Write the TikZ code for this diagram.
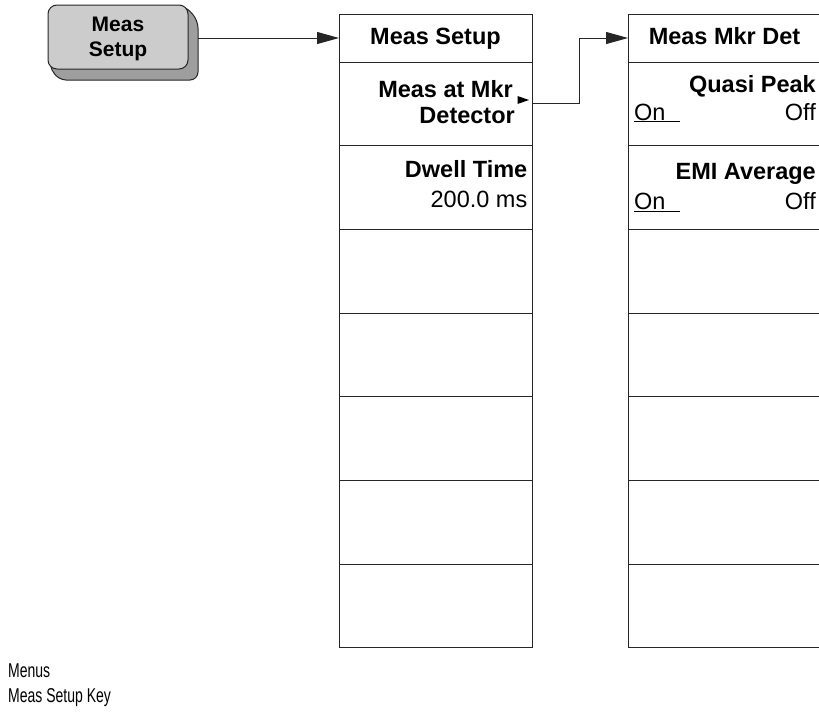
\documentclass[tikz,border=0pt]{standalone}
\usepackage{fontspec}
\setmainfont{Liberation Sans}
\newfontfamily\narrowfont[FakeStretch=0.7]{Liberation Sans}
\usetikzlibrary{arrows.meta}

\tikzset{
  menubox/.style={draw=black!85, line width=1pt, minimum width=193pt, inner sep=0pt, outer sep=0pt},
  menutitle/.style={menubox, minimum height=48pt, text height=17pt, text depth=5pt,
    font=\fontsize{23.5}{26}\selectfont\bfseries},
  menurow/.style={menubox, minimum height=83.71pt},
  keylabel/.style={inner sep=0pt, anchor=base east, font=\fontsize{23.5}{26}\selectfont\bfseries},
  valuelabel/.style={inner sep=0pt, font=\fontsize{23.5}{26}\selectfont},
  keyface/.style={draw=black!85, line width=1pt, fill=black!20, rounded corners=9pt,
    minimum width=140pt, minimum height=64pt, inner sep=0pt, align=center, text depth=0pt,
    font=\fontsize{21}{25}\selectfont\bfseries},
  keyshadow/.style={draw=black!85, line width=1pt, fill=black!38, rounded corners=8pt},
  flow/.style={draw=black!85, line width=1pt, -{Triangle[length=22pt,width=12pt]}},
  notelabel/.style={inner sep=0pt, anchor=base west, font=\narrowfont\fontsize{20}{22}\selectfont},
}

\begin{document}
\begin{tikzpicture}[x=1pt, y=-1pt]
\useasboundingbox (0,0) rectangle (819,713);
% row height of the soft key menus
\def\rowh{83.71}

% hard key with its shadow
\draw[keyshadow] (184,5) -- (198,20) -- (198,80) -- (58,80) -- (48,63) -- cycle;
\node[keyface] (key) at (118,37) {Meas\\Setup};
\coordinate (keyedge) at (198,38);

% Meas Setup menu
\node[menutitle] (setupT) at (435.5,38) {Meas Setup};
\foreach \i in {1,...,7} {
    \node[menurow] (setupR\i) at (435.5,{62+(\i-0.5)*\rowh}) {};
}
\node[keylabel] (mkrA) at ([xshift=-19pt,yshift=-35pt]setupR1.north east) {Meas at Mkr};
\node[keylabel] (mkrB) at ([xshift=-17pt,yshift=-61pt]setupR1.north east) {Detector};
\fill[black] (517.5,96) -- (529,100) -- (517.5,104) -- cycle; % submenu marker
\node[keylabel] (dwellA) at ([xshift=-4.5pt,yshift=-32pt]setupR2.north east) {Dwell Time};
\node[valuelabel, anchor=base east] (dwellB) at ([xshift=-4.5pt,yshift=-62pt]setupR2.north east) {200.0 ms};

% Meas Mkr Det menu
\node[menutitle] (detT) at (724.5,38) {Meas Mkr Det};
\foreach \i in {1,...,7} {
    \node[menurow] (detR\i) at (724.5,{62+(\i-0.5)*\rowh}) {};
}
\node[keylabel] (qpA) at ([xshift=-5pt,yshift=-30pt]detR1.north east) {Quasi Peak};
\node[valuelabel, anchor=base west] (qpOn) at ([xshift=6pt,yshift=-58pt]detR1.north west) {\underline{\makebox[46pt][l]{On}}};
\node[valuelabel, anchor=base east] (qpOff) at ([xshift=-5pt,yshift=-58pt]detR1.north east) {Off};
\node[keylabel] (emiA) at ([xshift=-5pt,yshift=-34pt]detR2.north east) {EMI Average};
\node[valuelabel, anchor=base west] (emiOn) at ([xshift=6pt,yshift=-64pt]detR2.north west) {\underline{\makebox[46pt][l]{On}}};
\node[valuelabel, anchor=base east] (emiOff) at ([xshift=-5pt,yshift=-64pt]detR2.north east) {Off};

% connectors
\draw[flow] (keyedge) -- (setupT.west);
\draw[flow] (setupR1.east) -- ++(47,0) |- (detT.west);

% caption
\node[notelabel] (noteA) at (8,677) {Menus};
\node[notelabel] (noteB) at (8,702) {Meas Setup Key};

\end{tikzpicture}
\end{document}
